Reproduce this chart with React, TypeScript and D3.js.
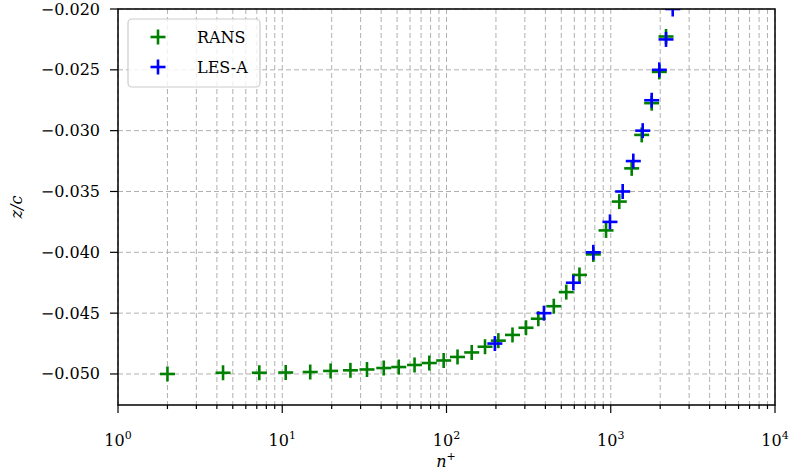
import React from "react";
import * as d3 from "d3";

const ransN = [2.0, 4.36, 7.25, 10.5, 14.8, 19.7, 26.0, 32.8, 41.5, 51.2, 63.9, 78.6, 96.1, 116.7, 142.4, 171.6, 206.8, 252.2, 304.8, 362.2, 450, 536, 645, 783, 936, 1127, 1341, 1543, 1775, 1975, 2170];
const ransZ = [-0.05, -0.0499, -0.0499, -0.04988, -0.04984, -0.04975, -0.0497, -0.04963, -0.04951, -0.04943, -0.04926, -0.0491, -0.04889, -0.0486, -0.04823, -0.04776, -0.04726, -0.04679, -0.0462, -0.04546, -0.04443, -0.04327, -0.04186, -0.04017, -0.0382, -0.03583, -0.0331, -0.03035, -0.02774, -0.02517, -0.02226];

const lesN = [197, 392, 592, 783, 989, 1182, 1372, 1565, 1775, 1975, 2170, 2384];
const lesZ = [-0.0475, -0.045, -0.0425, -0.04, -0.0375, -0.035, -0.0325, -0.03, -0.0275, -0.025, -0.0225, -0.02];

const yTicks = [-0.05, -0.045, -0.04, -0.035, -0.03, -0.025, -0.02];
const xMajor = [1, 10, 100, 1000, 10000];
const xMajorExp = ["0", "1", "2", "3", "4"];

const series = [
  { name: "RANS", color: "#008000", n: ransN, z: ransZ },
  { name: "LES-A", color: "#0000ff", n: lesN, z: lesZ },
];

const W = 790, H = 472;
const L = 118, R = 775, T = 9, B = 405;
const FONT = "'DejaVu Serif', serif";

export default function App() {
  const x = d3.scaleLog().domain([1, 10000]).range([L, R]);
  const y = d3.scaleLinear().domain([-0.05255, -0.02]).range([B, T]);
  const minor: number[] = [];
  for (let e = 0; e < 4; e++) for (let k = 2; k <= 9; k++) minor.push(k * Math.pow(10, e));
  const arm = 7.5;
  const plus = (cx: number, cy: number, color: string, key: string) => (
    <g key={key} stroke={color} strokeWidth={2.6}>
      <line x1={cx - arm} x2={cx + arm} y1={cy} y2={cy} />
      <line x1={cx} x2={cx} y1={cy - arm} y2={cy + arm} />
    </g>
  );
  return (
    <div style={{ position: "fixed", left: 0, top: 0 }}>
      <svg width={W} height={H} style={{ display: "block", background: "#fff" }}>
        <defs>
          <clipPath id="plotclip">
            <rect x={L} y={T} width={R - L} height={B - T} />
          </clipPath>
        </defs>
        {/* grid */}
        <g stroke="#b0b0b0" strokeWidth={1} strokeDasharray="5,3" fill="none">
          {[...xMajor, ...minor].map((v, i) => (
            <line key={"gx" + i} x1={x(v)} x2={x(v)} y1={T} y2={B} />
          ))}
          {yTicks.map((v, i) => (
            <line key={"gy" + i} x1={L} x2={R} y1={y(v)} y2={y(v)} />
          ))}
        </g>
        {/* data */}
        <g clipPath="url(#plotclip)">
          {series.map((s) =>
            s.n.map((v, i) => plus(x(v), y(s.z[i]), s.color, s.name + i))
          )}
        </g>
        {/* spines */}
        <rect x={L} y={T} width={R - L} height={B - T} fill="none" stroke="#000" strokeWidth={1.5} />
        {/* x ticks */}
        <g stroke="#000" strokeWidth={1.2}>
          {xMajor.map((v, i) => (
            <line key={"xt" + i} x1={x(v)} x2={x(v)} y1={B} y2={B + 8} />
          ))}
          {minor.map((v, i) => (
            <line key={"xm" + i} x1={x(v)} x2={x(v)} y1={B} y2={B + 4} />
          ))}
          {yTicks.map((v, i) => (
            <line key={"yt" + i} x1={L - 8} x2={L} y1={y(v)} y2={y(v)} />
          ))}
        </g>
        <g fontFamily={FONT} fontSize={16} fill="#000">
          {xMajor.map((v, i) => (
            <text key={"xl" + i} x={x(v)} y={446} textAnchor="middle">
              10<tspan fontSize={11} dy={-7}>{xMajorExp[i]}</tspan>
            </text>
          ))}
          {yTicks.map((v, i) => (
            <text key={"yl" + i} x={100} y={y(v)} textAnchor="end" dominantBaseline="central">
              {"\u2212" + Math.abs(v).toFixed(3)}
            </text>
          ))}
          <text x={446} y={467} textAnchor="middle" fontStyle="italic">
            n<tspan fontSize={11} dy={-7} fontStyle="normal">+</tspan>
          </text>
          <text transform={`translate(22,${(T + B) / 2}) rotate(-90)`} textAnchor="middle" fontStyle="italic">
            z/c
          </text>
        </g>
        {/* legend */}
        <g>
          <rect x={128} y={19} width={132} height={68} rx={4} fill="#fff" fillOpacity={0.8} stroke="#cccccc" strokeWidth={1.2} />
          {series.map((s, i) => (
            <g key={"lg" + i}>
              {plus(158, 37 + i * 30, s.color, "lm" + i)}
              <text x={197} y={37 + i * 30} dominantBaseline="central" fontFamily={FONT} fontSize={16}>
                {s.name}
              </text>
            </g>
          ))}
        </g>
      </svg>
    </div>
  );
}
